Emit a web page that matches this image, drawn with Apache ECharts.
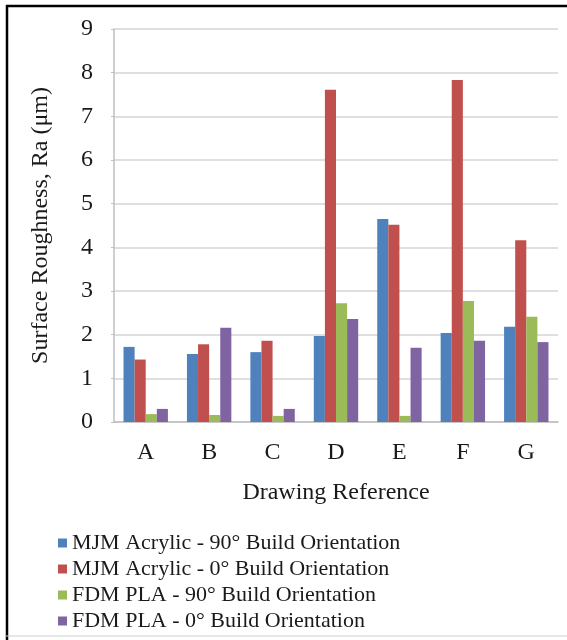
<!DOCTYPE html>
<html>
<head>
<meta charset="utf-8">
<script src="https://cdn.jsdelivr.net/npm/echarts@6/dist/echarts.min.js"></script>
<style>
  html, body { margin: 0; padding: 0; background: #fff; }
  #chart { width: 567px; height: 640px; }
</style>
</head>
<body>
<div id="chart"></div>
<script>
var categories = ['A', 'B', 'C', 'D', 'E', 'F', 'G'];
var mjm90 = [1.72, 1.56, 1.60, 1.97, 4.65, 2.04, 2.18];
var mjm0 = [1.43, 1.78, 1.86, 7.61, 4.52, 7.83, 4.16];
var fdm90 = [0.18, 0.16, 0.14, 2.72, 0.14, 2.77, 2.41];
var fdm0 = [0.30, 2.16, 0.30, 2.36, 1.70, 1.86, 1.83];
var seriesNames = [
    'MJM Acrylic - 90° Build Orientation',
    'MJM Acrylic - 0° Build Orientation',
    'FDM PLA - 90° Build Orientation',
    'FDM PLA - 0° Build Orientation'
];
var colors = ['#4f81bd', '#c0504d', '#9bbb59', '#8064a2'];

var font = '"Liberation Serif", "Times New Roman", serif';
var textColor = '#1a1a1a';

function bar(name, data, i) {
    return {
        name: name,
        type: 'bar',
        data: data,
        barGap: '0%',
        barCategoryGap: '30%',
        itemStyle: { color: colors[i] }
    };
}

echarts.init(document.getElementById('chart')).setOption({
    animation: false,
    textStyle: { fontFamily: font },
    grid: { left: 114, right: 9, top: 29, bottom: 218 },
    legend: {
        orient: 'vertical',
        left: 58,
        top: 532,
        padding: 0,
        height: 106,
        itemWidth: 9,
        itemHeight: 9,
        itemGap: 4,
        icon: 'rect',
        textStyle: { fontFamily: font, fontSize: 22, lineHeight: 20, color: textColor },
        data: seriesNames
    },
    xAxis: {
        type: 'category',
        data: categories,
        name: 'Drawing Reference',
        nameLocation: 'middle',
        nameGap: 59,
        nameTextStyle: { fontFamily: font, fontSize: 24, color: textColor },
        axisLine: { lineStyle: { color: '#bfbfbf', width: 1.5 } },
        axisTick: { show: false },
        axisLabel: { fontFamily: font, fontSize: 24, color: textColor, margin: 19 }
    },
    yAxis: {
        type: 'value',
        min: 0,
        max: 9,
        interval: 1,
        name: 'Surface Roughness, Ra (μm)',
        nameLocation: 'middle',
        nameGap: 61,
        nameTextStyle: { fontFamily: font, fontSize: 24, color: textColor },
        axisLine: { show: true, lineStyle: { color: '#bfbfbf', width: 1.5 } },
        axisTick: { show: true, length: 3, lineStyle: { color: '#bfbfbf' } },
        axisLabel: { fontFamily: font, fontSize: 24, color: textColor, margin: 21 },
        splitLine: { lineStyle: { color: '#d4d4d4', width: 1.5 } }
    },
    graphic: [
        { type: 'line', shape: { x1: 7, y1: 5, x2: 7, y2: 640 }, style: { stroke: '#000', lineWidth: 2.5 } },
        { type: 'line', shape: { x1: 6, y1: 6, x2: 567, y2: 6 }, style: { stroke: '#000', lineWidth: 2.5 } },
        { type: 'line', shape: { x1: 6, y1: 636, x2: 567, y2: 636 }, style: { stroke: '#cfcfcf', lineWidth: 1 } }
    ],
    series: [
        bar(seriesNames[0], mjm90, 0),
        bar(seriesNames[1], mjm0, 1),
        bar(seriesNames[2], fdm90, 2),
        bar(seriesNames[3], fdm0, 3)
    ]
});
</script>
</body>
</html>
